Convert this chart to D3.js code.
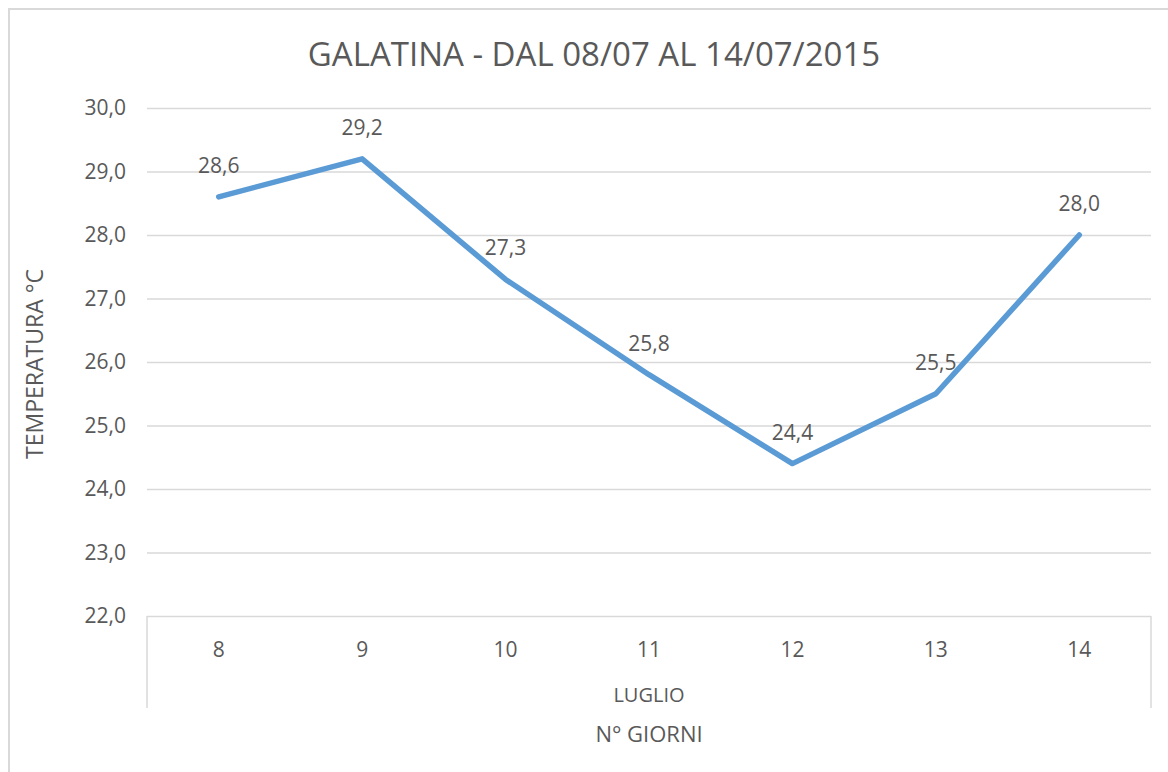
<!DOCTYPE html>
<html>
<head>
<meta charset="utf-8">
<script src="https://cdn.jsdelivr.net/npm/d3@7"></script>
<style>
  body { margin: 0; background: #fff; }
  text { font-family: "Open Sans", "Noto Sans", sans-serif; fill: #595959; }
</style>
</head>
<body>
<svg id="chart" width="1168" height="772"></svg>
<script>
const days = ['8', '9', '10', '11', '12', '13', '14'];
const temps = [28.6, 29.2, 27.3, 25.8, 24.4, 25.5, 28.0];
const yTicks = [22, 23, 24, 25, 26, 27, 28, 29, 30];

const title = 'GALATINA - DAL 08/07 AL 14/07/2015';
const yLabel = 'TEMPERATURA °C';
const groupLabel = 'LUGLIO';
const xLabel = 'N° GIORNI';

const svg = d3.select('#chart');
const margin = { top: 108, right: 17, bottom: 156, left: 147 };
const width = +svg.attr('width');
const height = +svg.attr('height');
const innerWidth = width - margin.left - margin.right;
const innerHeight = height - margin.top - margin.bottom;

const it = d3.formatLocale({ decimal: ',', thousands: '.', grouping: [3], currency: ['€', ''] });
const fmt = it.format('.1f');

// outer chart-area border (left and top edges visible)
svg.append('path')
  .attr('d', `M9,${height} V9 H${width}`)
  .attr('fill', 'none')
  .attr('stroke', '#d9d9d9')
  .attr('stroke-width', 2);

const g = svg.append('g')
  .attr('transform', `translate(${margin.left},${margin.top})`);

const xScale = d3.scaleBand()
  .domain(days)
  .range([0, innerWidth]);

const yScale = d3.scaleLinear()
  .domain([22, 30])
  .range([innerHeight, 0]);

const yAxis = d3.axisLeft(yScale)
  .tickValues(yTicks)
  .tickFormat(fmt)
  .tickSize(-innerWidth)
  .tickPadding(21);

const yAxisG = g.append('g').call(yAxis);
yAxisG.select('.domain').remove();
yAxisG.selectAll('.tick line').attr('stroke', '#d9d9d9').attr('stroke-width', 1.5);
yAxisG.selectAll('.tick text')
  .style('font-size', '21px')
  .style('font-family', '"Open Sans", sans-serif')
  .attr('fill', '#595959');

const xAxis = d3.axisBottom(xScale)
  .tickSize(0)
  .tickPadding(26);

const xAxisG = g.append('g')
  .attr('transform', `translate(0,${innerHeight})`)
  .call(xAxis);
xAxisG.select('.domain').remove();
xAxisG.selectAll('.tick text')
  .style('font-size', '21px')
  .style('font-family', '"Open Sans", sans-serif')
  .attr('fill', '#595959');

// multi-level category axis side lines
[0, innerWidth].forEach(x => {
  xAxisG.append('line')
    .attr('x1', x).attr('x2', x)
    .attr('y1', 0).attr('y2', 92)
    .attr('stroke', '#d9d9d9')
    .attr('stroke-width', 1.5);
});

xAxisG.append('text')
  .attr('x', innerWidth / 2)
  .attr('y', 86)
  .attr('text-anchor', 'middle')
  .style('font-size', '20px')
  .text(groupLabel);

g.append('text')
  .attr('x', innerWidth / 2)
  .attr('y', innerHeight + 126)
  .attr('text-anchor', 'middle')
  .style('font-size', '22px')
  .text(xLabel);

g.append('text')
  .attr('transform', `translate(${43 - margin.left},${innerHeight / 2 + 2}) rotate(-90)`)
  .attr('text-anchor', 'middle')
  .style('font-size', '23px')
  .text(yLabel);

svg.append('text')
  .attr('x', margin.left + innerWidth / 2 - 55)
  .attr('y', 66)
  .attr('text-anchor', 'middle')
  .style('font-size', '33px')
  .text(title);

const cx = d => xScale(d) + xScale.bandwidth() / 2;

const line = d3.line()
  .x((d, i) => cx(days[i]))
  .y(d => yScale(d));

g.append('path')
  .datum(temps)
  .attr('fill', 'none')
  .attr('stroke', '#5b9bd5')
  .attr('stroke-width', 5.5)
  .attr('stroke-linejoin', 'round')
  .attr('stroke-linecap', 'round')
  .attr('d', line);

g.selectAll('.label')
  .data(temps)
  .enter()
  .append('text')
  .attr('class', 'label')
  .attr('x', (d, i) => cx(days[i]))
  .attr('y', d => yScale(d) - 24)
  .attr('text-anchor', 'middle')
  .style('font-size', '21px')
  .attr('fill', '#404040')
  .text(d => fmt(d));
</script>
</body>
</html>
